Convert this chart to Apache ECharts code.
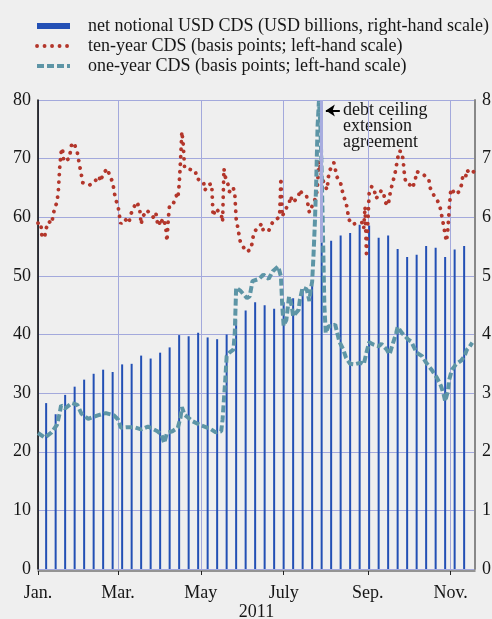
<!DOCTYPE html>
<html>
<head>
<meta charset="utf-8">
<script src="https://cdn.jsdelivr.net/npm/echarts@6/dist/echarts.min.js"></script>
<style>
html, body { margin: 0; padding: 0; background: #efefef; }
#chart { width: 492px; height: 619px; }
</style>
</head>
<body>
<div id="chart"></div>
<script>
// x values are days counted from 1 Jan 2011
const monthDays = [0, 59, 120, 181, 243, 304];
const monthLabels = ['Jan.', 'Mar.', 'May', 'July', 'Sep.', 'Nov.'];

// weekly net notional (USD billions, right-hand scale)
const notionalDays = [6, 13, 20, 27, 34, 41, 48, 55, 62, 69, 76, 83, 90, 97, 104, 111, 118, 125, 132, 139,
    146, 153, 160, 167, 174, 181, 188, 195, 202, 209, 216, 223, 230, 237, 244, 251, 258, 265, 272, 279,
    286, 293, 300, 307, 314];
const notionalUsdBn = [2.83, 2.64, 2.97, 3.11, 3.23, 3.33, 3.40, 3.36, 3.49, 3.50, 3.64, 3.59, 3.69, 3.78, 3.99, 3.97, 4.03, 3.95, 3.92, 4.00,
    4.25, 4.41, 4.55, 4.50, 4.44, 4.55, 4.62, 4.77, 4.85, 5.57, 5.60, 5.69, 5.73, 5.87, 5.86, 5.65, 5.69, 5.46, 5.32, 5.36,
    5.51, 5.48, 5.32, 5.45, 5.51];

// ten-year CDS (basis points)
const tenYearDays = [0, 2, 3, 5, 6, 8, 10, 12, 14, 15, 16, 17, 18, 19, 23, 24, 25, 27, 29, 30,
    31, 32, 33, 38, 41, 45, 46, 48, 51, 53, 55, 56, 57, 58, 59, 60, 61, 64, 67, 68,
    70, 73, 75, 76, 77, 80, 83, 86, 87, 88, 89, 90, 92, 94, 95, 96, 97, 100, 102, 103,
    104, 105, 106, 107, 108, 113, 116, 117, 122, 123, 125, 128, 129, 131, 135, 136, 137, 138, 140, 141,
    143, 144, 145, 146, 147, 148, 149, 151, 154, 157, 158, 159, 161, 163, 165, 166, 170, 172, 174, 176,
    178, 179, 180, 182, 185, 186, 188, 192, 193, 195, 198, 199, 200, 204, 205, 206, 207, 209, 211, 213,
    214, 215, 218, 219, 220, 223, 225, 227, 228, 229, 231, 236, 239, 240, 241, 242, 244, 246, 248, 249,
    251, 253, 255, 256, 258, 259, 260, 263, 265, 266, 268, 269, 270, 271, 275, 276, 278, 279, 281, 284,
    288, 289, 292, 294, 296, 297, 298, 299, 300, 301, 302, 303, 304, 305, 307, 310, 312, 313, 315, 316,
    318, 320, 321];
const tenYearBp = [59.0, 59.1, 56.5, 56.8, 58.1, 59.3, 58.9, 61.3, 62.6, 64.5, 68.5, 71.0, 71.8, 69.5, 70.0, 71.4, 72.7, 72.4, 71.0, 69.7,
    68.4, 67.2, 65.9, 65.5, 65.9, 67.0, 66.1, 67.4, 68.3, 67.0, 66.0, 64.6, 63.2, 63.0, 61.9, 60.3, 58.9, 59.7, 59.0, 60.2,
    61.5, 62.6, 61.3, 58.8, 60.0, 61.2, 60.6, 59.7, 60.5, 59.1, 59.6, 58.6, 59.8, 58.6, 55.9, 59.7, 62.2, 62.5, 63.7, 63.2,
    65.5, 69.5, 74.6, 72.5, 68.4, 68.1, 67.9, 66.6, 66.0, 64.6, 65.5, 65.7, 60.2, 61.5, 60.5, 59.2, 68.3, 66.9, 65.6, 64.4,
    64.2, 64.9, 64.0, 59.8, 58.5, 57.2, 55.9, 55.0, 54.1, 54.6, 56.0, 57.3, 58.0, 58.5, 58.9, 57.7, 57.7, 58.8, 59.5, 59.7,
    60.1, 66.7, 60.1, 61.3, 62.2, 63.6, 62.5, 63.6, 64.7, 63.8, 63.5, 62.0, 60.8, 63.0, 63.5, 65.6, 69.6, 67.0, 65.6, 64.7,
    66.9, 68.0, 69.3, 68.3, 67.0, 65.8, 63.7, 62.5, 61.2, 59.7, 58.8, 59.0, 59.1, 58.1, 61.8, 53.8, 64.0, 65.3, 64.4, 63.2,
    63.7, 64.6, 63.7, 62.5, 62.0, 63.5, 64.7, 67.4, 70.0, 71.3, 71.2, 69.8, 67.3, 65.9, 65.4, 65.0, 66.4, 67.8, 67.6, 67.3,
    66.4, 65.0, 63.6, 63.0, 62.0, 60.9, 59.6, 58.5, 57.0, 55.9, 58.0, 61.4, 64.2, 64.9, 63.9, 64.3, 65.5, 67.0, 66.7, 68.1,
    67.5, 67.5, 67.8];

// one-year CDS (basis points)
const oneYearDays = [0, 5, 10, 14, 16, 17, 20, 25, 29, 32, 37, 44, 50, 56, 59, 61, 66, 71, 76, 81,
    88, 91, 93, 95, 99, 103, 105, 106, 108, 114, 120, 127, 131, 135, 136, 138, 139, 141, 144, 145,
    146, 149, 154, 156, 158, 163, 166, 170, 173, 177, 179, 180, 181, 183, 185, 187, 188, 192, 193, 195,
    198, 200, 201, 202, 203, 204, 205, 206, 207, 208, 209, 210, 211, 212, 214, 217, 219, 222, 225, 227,
    230, 233, 238, 240, 242, 244, 247, 251, 253, 257, 259, 261, 264, 265, 268, 273, 275, 279, 283, 286,
    290, 294, 297, 299, 300, 302, 303, 305, 308, 312, 314, 316, 318, 320];
const oneYearBp = [23.2, 22.4, 23.3, 24.6, 26.6, 27.9, 27.4, 28.3, 28.0, 26.5, 25.6, 26.2, 26.6, 26.2, 25.5, 24.1, 24.2, 24.2, 23.8, 24.3,
    23.5, 22.9, 21.5, 23.2, 23.5, 24.1, 25.8, 27.6, 26.3, 25.2, 24.5, 23.9, 23.3, 23.5, 25.5, 32.3, 36.3, 36.9, 37.4, 40.3,
    48.0, 47.5, 46.2, 46.5, 49.1, 49.5, 50.2, 49.5, 50.8, 51.6, 49.9, 44.8, 41.5, 42.5, 46.5, 44.8, 43.1, 44.2, 46.0, 48.0,
    47.7, 45.7, 47.7, 49.0, 53.5, 59.0, 66.0, 75.5, 79.8, 76.0, 68.0, 57.0, 45.0, 40.3, 41.4, 41.4, 41.7, 38.8, 37.4, 36.0,
    35.0, 34.9, 35.2, 34.9, 36.9, 38.7, 38.3, 38.0, 38.4, 37.4, 36.6, 38.1, 40.3, 41.3, 40.3, 39.1, 38.8, 36.9, 36.3, 35.2,
    34.0, 32.6, 31.2, 29.7, 28.6, 30.3, 32.3, 34.0, 34.9, 35.6, 36.2, 37.4, 37.9, 38.6];

const serif = 'Liberation Serif';
const ink = '#161616';
const gridBlue = '#a3a9dc';
const noSymbol = { color: 'rgba(0,0,0,0)', borderColor: 'rgba(0,0,0,0)', borderWidth: 0 };

const pairs = (xs, ys) => xs.map((x, i) => [x, ys[i]]);

const chart = echarts.init(document.getElementById('chart'));
chart.setOption({
    animation: false,
    backgroundColor: '#efefef',
    textStyle: { fontFamily: serif },
    grid: { left: 38, right: 17, top: 100, bottom: 50, outerBoundsMode: 'none', containLabel: false },
    legend: {
        orient: 'vertical',
        left: 30,
        top: 12,
        itemWidth: 33,
        itemHeight: 6,
        itemGap: 2,
        selectedMode: false,
        lineStyle: { width: 'inherit', type: 'inherit', cap: 'inherit' },
        textStyle: { fontFamily: serif, fontSize: 18, color: ink, lineHeight: 18, padding: [0, 0, 0, 13] },
        data: [
            { name: 'net notional USD CDS (USD billions, right-hand scale)', icon: 'rect' },
            { name: 'ten-year CDS (basis points; left-hand scale)', itemStyle: noSymbol },
            { name: 'one-year CDS (basis points; left-hand scale)', itemStyle: noSymbol }
        ]
    },
    xAxis: {
        type: 'value',
        min: 0,
        max: 322,
        offset: 2,
        name: '2011',
        nameLocation: 'middle',
        nameGap: 32,
        nameMoveOverlap: false,
        nameTextStyle: { fontFamily: serif, fontSize: 18, color: ink },
        axisLine: { show: true, onZero: false, lineStyle: { color: '#777', width: 1.5 } },
        axisTick: { show: true, customValues: monthDays, length: 4, lineStyle: { color: '#222' } },
        axisLabel: {
            customValues: monthDays,
            formatter: v => monthLabels[monthDays.indexOf(v)] || '',
            fontFamily: serif, fontSize: 18, color: ink, margin: 13
        },
        splitLine: { show: true, lineStyle: { color: gridBlue, width: 1 } }
    },
    yAxis: [
        {
            type: 'value', min: 0, max: 80, interval: 10,
            axisLine: { show: true, lineStyle: { color: '#000', width: 1.5 } },
            axisTick: { show: false },
            axisLabel: { fontFamily: serif, fontSize: 18, color: ink, margin: 7 },
            splitLine: { show: true, lineStyle: { color: gridBlue, width: 1 } }
        },
        {
            type: 'value', min: 0, max: 8, interval: 1, position: 'right',
            axisLine: { show: true, lineStyle: { color: '#888', width: 2 } },
            axisTick: { show: false },
            axisLabel: { fontFamily: serif, fontSize: 18, color: ink, margin: 7 },
            splitLine: { show: false }
        }
    ],
    series: [
        {
            name: 'net notional USD CDS (USD billions, right-hand scale)',
            type: 'bar',
            yAxisIndex: 1,
            barWidth: 2,
            itemStyle: { color: '#2350b5' },
            data: pairs(notionalDays, notionalUsdBn),
            markLine: {
                silent: true,
                symbol: 'none',
                label: { show: false },
                lineStyle: { color: '#a7acdf', width: 3, type: 'solid' },
                data: [[{ coord: [208.6, 8] }, { coord: [208.6, 5.57] }]]
            }
        },
        {
            name: 'ten-year CDS (basis points; left-hand scale)',
            type: 'line',
            yAxisIndex: 0,
            symbol: 'none',
            showSymbol: false,
            lineStyle: { color: '#b3362b', width: 3.8, type: [0.1, 7.4], cap: 'round' },
            itemStyle: { color: '#b3362b' },
            data: pairs(tenYearDays, tenYearBp)
        },
        {
            name: 'one-year CDS (basis points; left-hand scale)',
            type: 'line',
            yAxisIndex: 0,
            symbol: 'none',
            showSymbol: false,
            lineStyle: { color: '#5d95a6', width: 4, type: [7, 3] },
            itemStyle: { color: '#5d95a6' },
            data: pairs(oneYearDays, oneYearBp),
            markLine: {
                silent: true,
                label: { show: false },
                lineStyle: { color: '#000', width: 2, type: 'solid' },
                data: [[
                    { coord: [222.4, 78.2], symbol: 'none' },
                    { coord: [212.1, 78.2], symbol: 'arrow', symbolSize: 9 }
                ]]
            }
        }
    ],
    graphic: [{
        type: 'text',
        left: 343,
        top: 101,
        style: {
            text: 'debt ceiling\nextension\nagreement',
            font: '18px "Liberation Serif"',
            fill: ink,
            lineHeight: 16
        }
    }]
});
</script>
</body>
</html>
